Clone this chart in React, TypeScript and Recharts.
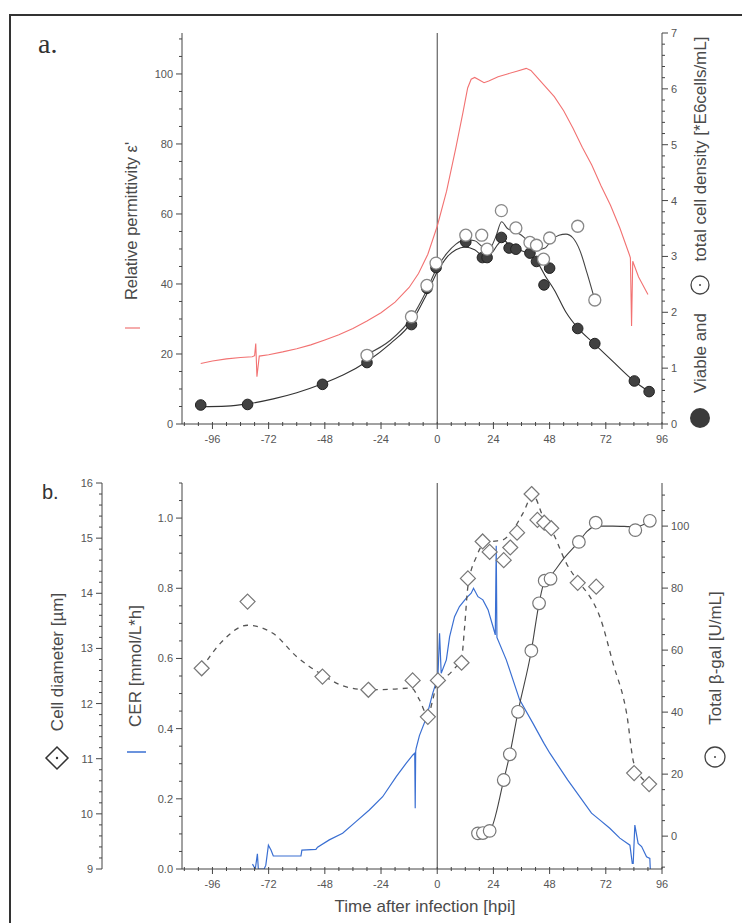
import React from 'react';
import { ComposedChart, Line, Scatter, XAxis, YAxis, ReferenceLine } from 'recharts';

const FONT = '"Liberation Sans", Arial, Helvetica, sans-serif';

// ---------- Panel a data ----------
const epsTime = [-101, -96, -90, -84, -79, -78, -77.5, -77, -76, -72, -66, -60, -54, -48, -42, -36, -30, -24, -18, -12, -8, -4, 0, 4, 8, 11, 13, 14.5, 16, 18, 20, 22, 26, 30, 34, 38, 40, 42, 46, 50, 54, 58, 62, 66, 70, 74, 78, 82, 82.5, 83, 83.5, 86, 90];
const epsValue = [17.3, 18, 18.6, 19, 19.2, 19.5, 23, 13.5, 19.4, 19.8, 20.6, 21.5, 22.6, 24, 25.5, 27.3, 29.4, 31.8, 34.8, 39, 43, 48.5, 56.5, 66.5, 79, 89, 96, 98.5, 99, 98.3, 97.5, 98, 99.2, 100, 100.8, 101.6, 101, 99.5, 96.5, 93.5, 89.5, 84.5, 79, 74, 68, 62.5, 56, 48.5, 47.5, 28, 46.5, 42, 37];

const viableTime = [-101, -81, -49, -30, -11, -4.4, -0.5, 12.2, 19.3, 21.3, 27.4, 30.7, 33.6, 39.6, 42.4, 45.6, 48, 60, 67.3, 84.2, 90.5];
const viableValue = [0.34, 0.35, 0.71, 1.1, 1.78, 2.43, 2.8, 3.26, 2.98, 2.98, 3.34, 3.15, 3.13, 3.06, 2.91, 2.49, 2.79, 1.71, 1.44, 0.77, 0.58];

const totalTime = [-30, -11, -4.4, -0.5, 12.2, 19, 21.3, 27.4, 33.6, 39.6, 42.4, 45.4, 48, 60, 67.3];
const totalValue = [1.23, 1.92, 2.48, 2.88, 3.38, 3.38, 3.13, 3.82, 3.51, 3.25, 3.2, 2.95, 3.33, 3.54, 2.22];

const viableFitTime = [-101, -90, -81, -70, -60, -49, -40, -30, -20, -11, -5, 0, 4, 8, 12, 16, 20, 23, 26, 28, 31, 35, 40, 43, 46, 50, 55, 60, 67, 75, 84, 90.5];
const viableFitValue = [0.31, 0.32, 0.36, 0.45, 0.56, 0.72, 0.88, 1.12, 1.44, 1.82, 2.28, 2.72, 2.98, 3.12, 3.17, 3.12, 3.0, 3.05, 3.22, 3.3, 3.2, 3.12, 3.02, 2.88, 2.66, 2.4, 2.0, 1.72, 1.44, 1.12, 0.77, 0.58];

const totalFitTime = [-30, -20, -11, -5, 0, 4, 8, 12, 16, 20, 22, 25, 27.5, 30, 33, 36, 40, 43, 46, 49, 52, 55, 58, 61, 64, 67.3];
const totalFitValue = [1.25, 1.5, 1.9, 2.35, 2.8, 3.05, 3.22, 3.3, 3.28, 3.15, 3.12, 3.35, 3.62, 3.5, 3.45, 3.38, 3.22, 3.12, 3.15, 3.3, 3.38, 3.4, 3.33, 3.1, 2.7, 2.22];

// ---------- Panel b data ----------
const cerTime = [-78.9, -77.7, -76.8, -76.4, -73.9, -73.2, -72.1, -71, -70, -58.2, -57.8, -51.8, -51.1, -46.1, -40.4, -34.7, -29, -23.3, -17.5, -13.3, -10.4, -9.6, -9.4, -9.2, -9, -7.6, -4.7, -1.9, 0.3, 1, 1.7, 3.9, 5.3, 7.4, 9.5, 12.4, 14.5, 15.5, 17.4, 19.5, 21.7, 23.8, 24.8, 25.2, 25.5, 29.5, 35.2, 40.9, 45.6, 48.1, 55.7, 65.9, 69.4, 73.7, 78, 82.3, 83.3, 83.7, 84.4, 85.8, 87.3, 89.4, 90.8, 91];
const cerValue = [0.014, 0, 0.043, 0, 0, 0.011, 0.068, 0.054, 0.037, 0.037, 0.054, 0.056, 0.062, 0.083, 0.102, 0.135, 0.168, 0.206, 0.263, 0.301, 0.325, 0.33, 0.173, 0.335, 0.344, 0.38, 0.43, 0.501, 0.548, 0.672, 0.558, 0.596, 0.662, 0.719, 0.748, 0.772, 0.786, 0.8, 0.776, 0.767, 0.739, 0.691, 0.667, 0.921, 0.66, 0.596, 0.482, 0.415, 0.358, 0.33, 0.254, 0.159, 0.14, 0.116, 0.088, 0.068, 0.016, 0.016, 0.125, 0.073, 0.064, 0.035, 0.03, 0];

const diamTime = [-100.6, -81, -49, -29.4, -10.5, -4, 0.3, 10.4, 13.1, 19.4, 22.4, 28.4, 31.2, 34.1, 40.3, 42.8, 45.7, 48.7, 60, 67.9, 84.1, 90.5];
const diamValue = [12.64, 13.85, 12.49, 12.25, 12.42, 11.76, 12.42, 12.74, 14.27, 14.94, 14.75, 14.6, 14.83, 15.1, 15.8, 15.33, 15.28, 15.18, 14.19, 14.12, 10.74, 10.54];

const diamFitTime = [-100.6, -92, -81, -70, -60, -49, -39.5, -29.8, -19.2, -11, -7.6, -4, -1.9, 0.3, 3.8, 8.1, 10.3, 11.7, 13.1, 16.7, 19.5, 23.8, 28.1, 32.4, 36.6, 40.9, 45.2, 49.5, 55.2, 60.9, 65.2, 69.4, 75.1, 80.9, 84.1, 90.5];
const diamFitValue = [12.64, 13.12, 13.42, 13.27, 12.85, 12.52, 12.31, 12.25, 12.26, 12.28, 12.07, 11.78, 12.07, 12.43, 12.49, 12.67, 12.79, 13.39, 14.12, 14.66, 14.88, 14.94, 14.97, 15.15, 15.45, 15.78, 15.39, 15.09, 14.54, 14.18, 13.94, 13.58, 12.73, 11.82, 10.9, 10.54];

const galTime = [17.4, 19.5, 22.4, 28.4, 31, 34.5, 40.2, 43.5, 45.9, 48.4, 60.5, 67.7, 84.6, 90.8];
const galValue = [0.9, 1.0, 1.7, 18.1, 26.4, 40.1, 59.8, 75.1, 82.4, 83, 94.9, 101.1, 98.7, 101.7];

const galFitTime = [17.4, 19.5, 22.4, 28.4, 31, 34.5, 40.2, 43.5, 45.9, 48.4, 54, 60.5, 64, 67.7, 75, 84.6, 90.8];
const galFitValue = [0.9, 1.0, 1.7, 18.1, 26.4, 40.1, 59.8, 75.1, 82.4, 84, 89.5, 95, 98.3, 100, 100, 99.8, 101.5];

// ---------- Tick labels ----------
const xMajor = [-96, -72, -48, -24, 0, 24, 48, 72, 96];
const epsMajor = [0, 20, 40, 60, 80, 100];
const cellMajor = [0, 1, 2, 3, 4, 5, 6, 7];
const diamMajor = [9, 10, 11, 12, 13, 14, 15, 16];
const cerMajor = [0, 0.2, 0.4, 0.6, 0.8, 1.0];
const galMajor = [0, 20, 40, 60, 80, 100];

const X_DOMAIN: [number, number] = [-109, 96];

function zip(t: number[], v: number[]) {
  return t.map((x, i) => ({ x, y: v[i] }));
}
function tickRange(start: number, end: number, step: number) {
  const out: number[] = [];
  const n = Math.round((end - start) / step);
  for (let i = 0; i <= n; i++) out.push(+(start + i * step).toFixed(4));
  return out;
}

const TICK_COLOR = '#444';
const LABEL_COLOR = '#555';

function makeTick(side: 'left' | 'right' | 'bottom', major: number[], fmt: (v: number) => string) {
  return (props: any) => {
    const { x, y, payload } = props;
    const v = payload.value as number;
    const isMajor = major.some((m) => Math.abs(m - v) < 1e-6);
    const L = isMajor ? 6 : 3;
    if (side === 'left') {
      return (
        <g>
          <line x1={x - L} x2={x} y1={y} y2={y} stroke={TICK_COLOR} strokeWidth={1} />
          {isMajor && (
            <text x={x - 9} y={y} dy={4} textAnchor="end" fontSize={11} fill={LABEL_COLOR} fontFamily={FONT}>
              {fmt(v)}
            </text>
          )}
        </g>
      );
    }
    if (side === 'right') {
      return (
        <g>
          <line x1={x} x2={x + L} y1={y} y2={y} stroke={TICK_COLOR} strokeWidth={1} />
          {isMajor && (
            <text x={x + 9} y={y} dy={4} textAnchor="start" fontSize={11} fill={LABEL_COLOR} fontFamily={FONT}>
              {fmt(v)}
            </text>
          )}
        </g>
      );
    }
    return (
      <g>
        <line x1={x} x2={x} y1={y - 2} y2={y + (isMajor ? 5 : 2)} stroke={TICK_COLOR} strokeWidth={1} />
        {isMajor && (
          <text x={x} y={y + 19} textAnchor="middle" fontSize={11} fill={LABEL_COLOR} fontFamily={FONT}>
            {fmt(v)}
          </text>
        )}
      </g>
    );
  };
}

const intFmt = (v: number) => String(Math.round(v));
const cerFmt = (v: number) => v.toFixed(1);

const FilledDot = (p: any) => <circle cx={p.cx} cy={p.cy} r={5.3} fill="#414141" stroke="#222" strokeWidth={1} />;
const OpenDot = (p: any) => <circle cx={p.cx} cy={p.cy} r={6} fill="#fff" stroke="#888" strokeWidth={1.3} />;
const GalDot = (p: any) => <circle cx={p.cx} cy={p.cy} r={6.3} fill="#fff" stroke="#777" strokeWidth={1.2} />;
const DiamondDot = (p: any) => {
  const s = 7.5;
  const { cx, cy } = p;
  return <path d={`M${cx},${cy - s} L${cx + s},${cy} L${cx},${cy + s} L${cx - s},${cy} Z`} fill="#fff" stroke="#777" strokeWidth={1.2} />;
};

const axisLine = { stroke: '#444', strokeWidth: 1 };

function PanelA() {
  return (
    <ComposedChart width={742} height={460} margin={{ top: 33, right: 20, bottom: 6, left: 122 }}>
      <XAxis xAxisId="x" dataKey="x" type="number" domain={X_DOMAIN} allowDataOverflow ticks={tickRange(-108, 96, 6)} interval={0} tickLine={false} tickSize={0} tickMargin={0} tick={makeTick('bottom', xMajor, intFmt)} height={30} axisLine={axisLine} />
      <YAxis yAxisId="eps" dataKey="y" orientation="left" type="number" domain={[0, 111.7]} allowDataOverflow ticks={tickRange(0, 110, 5)} interval={0} tickLine={false} tickSize={0} tickMargin={0} tick={makeTick('left', epsMajor, intFmt)} width={60} axisLine={axisLine} />
      <YAxis yAxisId="cd" dataKey="y" orientation="right" type="number" domain={[0, 7]} allowDataOverflow ticks={tickRange(0, 7, 0.2)} interval={0} tickLine={false} tickSize={0} tickMargin={0} tick={makeTick('right', cellMajor, intFmt)} width={60} axisLine={axisLine} />
      <ReferenceLine xAxisId="x" yAxisId="eps" x={0} stroke="#444" strokeWidth={1} />
      <Line xAxisId="x" yAxisId="eps" data={zip(epsTime, epsValue)} dataKey="y" type="linear" stroke="#f27272" strokeWidth={1.1} dot={false} activeDot={false} isAnimationActive={false} />
      <Line xAxisId="x" yAxisId="cd" data={zip(viableFitTime, viableFitValue)} dataKey="y" type="monotone" stroke="#333" strokeWidth={1.1} dot={false} activeDot={false} isAnimationActive={false} />
      <Line xAxisId="x" yAxisId="cd" data={zip(totalFitTime, totalFitValue)} dataKey="y" type="monotone" stroke="#444" strokeWidth={1.1} dot={false} activeDot={false} isAnimationActive={false} />
      <Scatter xAxisId="x" yAxisId="cd" data={zip(viableTime, viableValue)} dataKey="y" shape={FilledDot} isAnimationActive={false} />
      <Scatter xAxisId="x" yAxisId="cd" data={zip(totalTime, totalValue)} dataKey="y" shape={OpenDot} isAnimationActive={false} />
    </ComposedChart>
  );
}

function PanelB() {
  return (
    <ComposedChart width={742} height={463} margin={{ top: 23, right: 20, bottom: 24, left: 42 }}>
      <XAxis xAxisId="x" dataKey="x" type="number" domain={X_DOMAIN} allowDataOverflow ticks={tickRange(-108, 96, 6)} interval={0} tickLine={false} tickSize={0} tickMargin={0} tick={makeTick('bottom', xMajor, intFmt)} height={30} axisLine={axisLine} />
      <YAxis yAxisId="cer" dataKey="y" orientation="left" type="number" domain={[0, 1.1]} allowDataOverflow ticks={tickRange(0, 1.1, 0.05)} interval={0} tickLine={false} tickSize={0} tickMargin={0} tick={makeTick('left', cerMajor, cerFmt)} width={80} axisLine={axisLine} />
      <YAxis yAxisId="diam" dataKey="y" orientation="left" type="number" domain={[9, 16]} allowDataOverflow ticks={tickRange(9, 16, 0.2)} interval={0} tickLine={false} tickSize={0} tickMargin={0} tick={makeTick('left', diamMajor, intFmt)} width={60} axisLine={axisLine} />
      <YAxis yAxisId="gal" dataKey="y" orientation="right" type="number" domain={[-10.6, 113.9]} allowDataOverflow ticks={tickRange(-10, 110, 5)} interval={0} tickLine={false} tickSize={0} tickMargin={0} tick={makeTick('right', galMajor, intFmt)} width={60} axisLine={axisLine} />
      <ReferenceLine xAxisId="x" yAxisId="cer" x={0} stroke="#444" strokeWidth={1} />
      <Line xAxisId="x" yAxisId="cer" data={zip(cerTime, cerValue)} dataKey="y" type="linear" stroke="#3a6fd2" strokeWidth={1.2} dot={false} activeDot={false} isAnimationActive={false} />
      <Line xAxisId="x" yAxisId="diam" data={zip(diamFitTime, diamFitValue)} dataKey="y" type="monotone" stroke="#555" strokeWidth={1.3} strokeDasharray="5 5" dot={false} activeDot={false} isAnimationActive={false} />
      <Scatter xAxisId="x" yAxisId="diam" data={zip(diamTime, diamValue)} dataKey="y" shape={DiamondDot} isAnimationActive={false} />
      <Line xAxisId="x" yAxisId="gal" data={zip(galFitTime, galFitValue)} dataKey="y" type="monotone" stroke="#444" strokeWidth={1.1} dot={false} activeDot={false} isAnimationActive={false} />
      <Scatter xAxisId="x" yAxisId="gal" data={zip(galTime, galValue)} dataKey="y" shape={GalDot} isAnimationActive={false} />
    </ComposedChart>
  );
}

const titleProps = { fontFamily: FONT, fontSize: 17, fill: '#4a4a4a', textAnchor: 'middle' as const, dominantBaseline: 'central' as const };

export default function App() {
  return (
    <div style={{ position: 'absolute', left: 0, top: 0, width: 742, height: 923, background: '#fff', overflow: 'hidden' }}>
      <div style={{ position: 'absolute', left: 0, top: 0 }}>
        <PanelA />
      </div>
      <div style={{ position: 'absolute', left: 0, top: 460 }}>
        <PanelB />
      </div>
      <svg width={742} height={923} style={{ position: 'absolute', left: 0, top: 0, pointerEvents: 'none' }}>
        <line x1={9} y1={15} x2={742} y2={15} stroke="#333" strokeWidth={2} />
        <line x1={10} y1={14} x2={10} y2={923} stroke="#333" strokeWidth={2} />
        <text x={38} y={53} fontFamily='"Liberation Serif", serif' fontSize={28} fill="#333">a.</text>
        <text x={42} y={499} fontFamily={FONT} fontSize={20} fill="#333">b.</text>

        <text transform="translate(131,221) rotate(-90)" {...titleProps} fontSize={16.5}>Relative permittivity ε'</text>
        <line x1={125} x2={140} y1={328} y2={328} stroke="#f29090" strokeWidth={1.5} />

        <text transform="translate(700,149) rotate(-90)" {...titleProps}>total cell density [*E6cells/mL]</text>
        <circle cx={700} cy={285} r={9} fill="#fff" stroke="#444" strokeWidth={1.3} />
        <circle cx={700} cy={285} r={1} fill="#444" />
        <text transform="translate(700,353) rotate(-90)" {...titleProps}>Viable and</text>
        <circle cx={700} cy={418} r={10} fill="#3a3a3a" />

        <text transform="translate(57,662) rotate(-90)" {...titleProps}>Cell diameter [µm]</text>
        <path d="M57,747 L68,758 L57,769 L46,758 Z" fill="#fff" stroke="#333" strokeWidth={1.5} />
        <circle cx={57} cy={758} r={1.2} fill="#333" />

        <text transform="translate(135,666) rotate(-90)" {...titleProps}>CER [mmol/L*h]</text>
        <line x1={127} x2={146} y1={752} y2={752} stroke="#3a6fd2" strokeWidth={1.5} />

        <text transform="translate(715,658) rotate(-90)" {...titleProps}>Total β-gal [U/mL]</text>
        <circle cx={715} cy={757} r={10} fill="#fff" stroke="#444" strokeWidth={1.3} />
        <circle cx={715} cy={757} r={1} fill="#444" />

        <text x={425} y={906} {...titleProps}>Time after infection [hpi]</text>
      </svg>
    </div>
  );
}
